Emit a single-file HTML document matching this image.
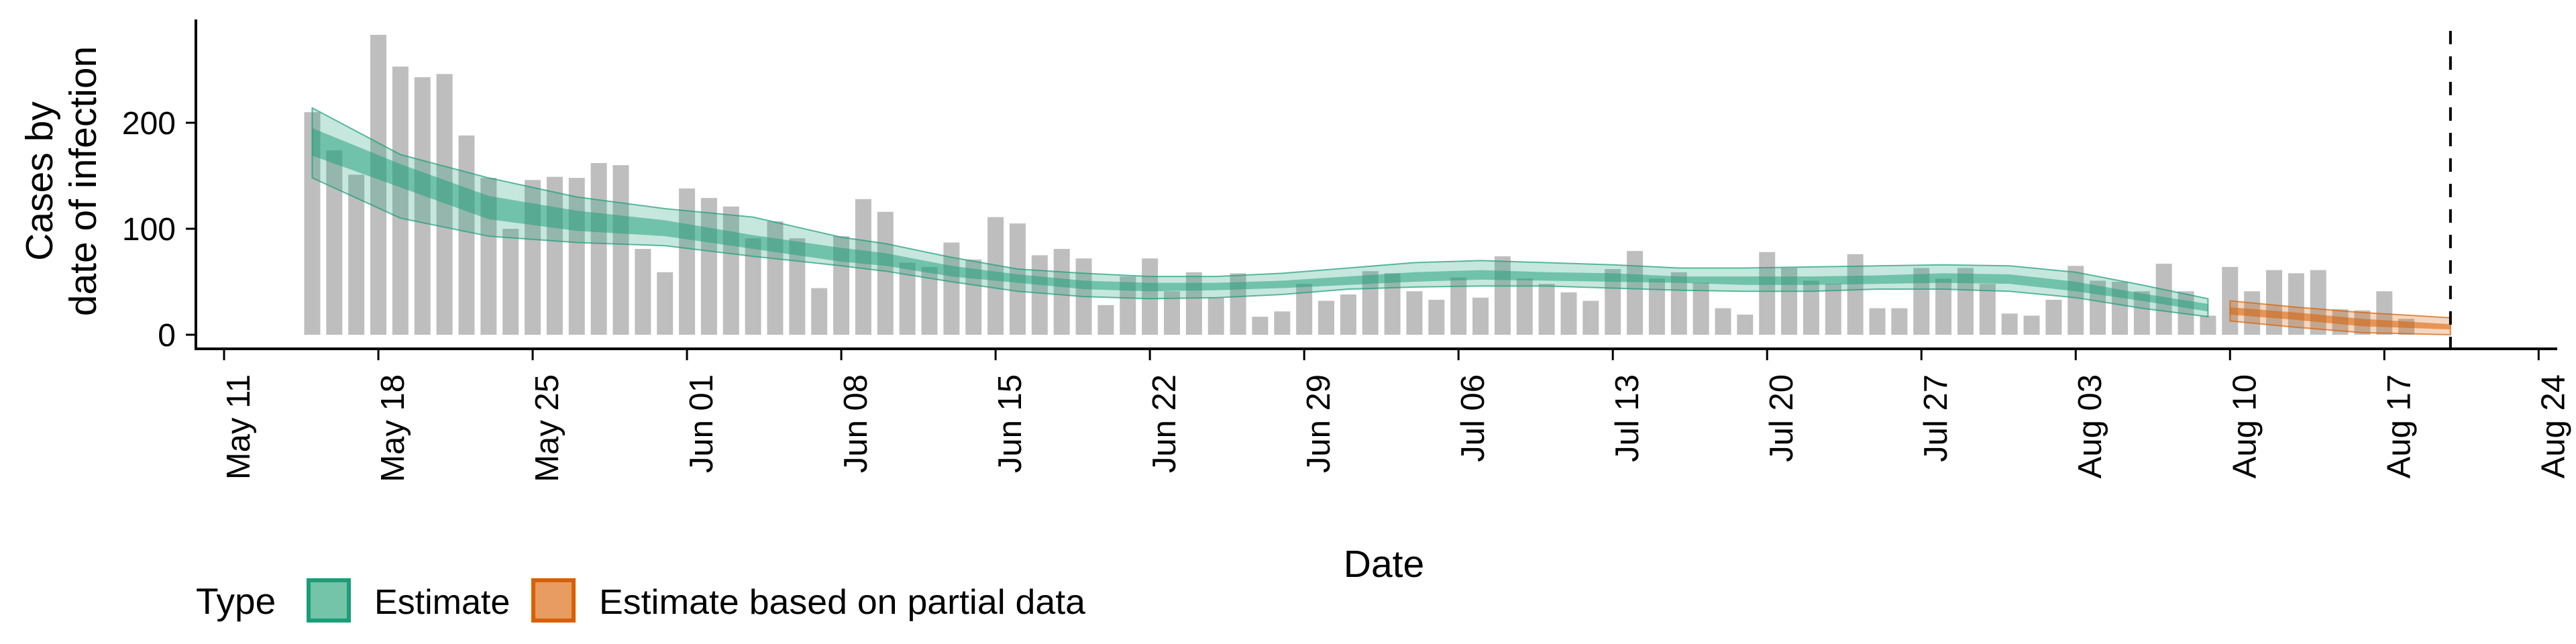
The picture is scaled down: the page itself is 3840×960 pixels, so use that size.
<!DOCTYPE html>
<html><head><meta charset="utf-8"><style>
html,body{margin:0;padding:0;background:#fff;}
svg{display:block;font-family:"Liberation Sans",sans-serif;}
</style></head><body>
<svg id="chart" width="3840" height="960" viewBox="0 0 3840 960">
<g id="bars"></g>
<g id="bands"></g>
<g id="axes"></g>
</svg>
<script>
const barStart = "2020-05-15";
const barValues = [210,174,151,283,253,243,246,188,148,100,146,149,148,162,160,81,59,138,129,121,91,107,91,44,93,128,
116,68,64,87,71,111,105,75,81,72,28,55,72,41,59,35,58,17,22,48,32,38,60,58,41,33,54,35,74,53,48,40,32,62,79,53,59,49,25,19,
78,63,51,48,76,25,25,63,53,63,48,20,18,33,65,51,50,41,67,41,18,64,41,61,58,61,24,23,41,15];
const estDates = ["2020-05-15","2020-05-19","2020-05-23","2020-05-27","2020-05-31","2020-06-04","2020-06-08","2020-06-10","2020-06-13","2020-06-16","2020-06-19","2020-06-22","2020-06-25","2020-06-28","2020-07-01","2020-07-04","2020-07-07","2020-07-10","2020-07-13","2020-07-16","2020-07-19","2020-07-22","2020-07-25","2020-07-28","2020-07-31","2020-08-03","2020-08-06","2020-08-09"];
const estOuterHi = [214,170,148,130,119,111,92,86,73,62,58,55,55,58,63,68,70,68,66,63,63,64,65,66,65,59,47,34];
const estInnerHi = [195,161,131,117,108,94,82,77,65,57,51,49,49,51,55,59,61,59,58,55,55,55,56,58,57,50,39,29];
const estInnerLo = [169,139,109,98,93,81,69,65,55,49,43,41,42,44,47,50,52,51,50,49,47,47,48,49,48,41,32,22];
const estOuterLo = [148,110,93,87,84,74,65,60,50,41,36,34,35,38,43,45,46,46,44,42,41,41,43,43,41,35,25,17];
const partDates = ["2020-08-10","2020-08-13","2020-08-16","2020-08-20"];
const partOuterHi = [32,26,21,16];
const partInnerHi = [26,21,15,10];
const partInnerLo = [19,14,8,5];
const partOuterLo = [13,7,2,0];
const tickLabels = ["May 11","May 18","May 25","Jun 01","Jun 08","Jun 15","Jun 22","Jun 29","Jul 06","Jul 13","Jul 20","Jul 27","Aug 03","Aug 10","Aug 17","Aug 24"];
const yTicks = [0,100,200];
const cutoffDate = "2020-08-20";

const NS="http://www.w3.org/2000/svg";
const origin = Date.UTC(2020,4,11);
function dayOf(s){const p=s.split("-");return Math.round((Date.UTC(+p[0],+p[1]-1,+p[2])-origin)/86400000);}
function x(d){return 334+32.86*d;}
function y(v){return 499-v*1.58;}
function mk(tag,attrs,parent){const e=document.createElementNS(NS,tag);for(const k in attrs)e.setAttribute(k,attrs[k]);parent.appendChild(e);return e;}

const gb=document.getElementById("bars");
const d0=dayOf(barStart);
barValues.forEach((v,i)=>{
  const cx=x(d0+i);
  const r=mk("rect",{x:cx-12,y:y(v),width:24,height:y(0)-y(v),fill:"#bebebe"},gb);
  
  
});

const gband=document.getElementById("bands");
function ribbon(dates,hi,lo,fill,op,stroke,name){
  let pts=dates.map((d,i)=>x(dayOf(d))+","+y(hi[i]));
  for(let i=dates.length-1;i>=0;i--)pts.push(x(dayOf(dates[i]))+","+y(lo[i]));
  const p=mk("polygon",{points:pts.join(" "),fill:fill,"fill-opacity":op,stroke:stroke||"none","stroke-width":2,"stroke-opacity":0.7},gband);
  
  
}
ribbon(estDates,estOuterHi,estOuterLo,"#1b9e77",0.25,"#1b9e77","estimate-90-band");
ribbon(estDates,estInnerHi,estInnerLo,"#1b9e77",0.5,null,"estimate-50-band");
ribbon(partDates,partOuterHi,partOuterLo,"#d95f02",0.25,"#d95f02","partial-90-band");
ribbon(partDates,partInnerHi,partInnerLo,"#d95f02",0.55,null,"partial-50-band");

const ga=document.getElementById("axes");
let e;
e=mk("line",{x1:292,y1:29,x2:292,y2:522,stroke:"#000","stroke-width":4},ga);


e=mk("line",{x1:290,y1:520,x2:3812,y2:520,stroke:"#000","stroke-width":4},ga);


yTicks.forEach(v=>{
  const t=mk("line",{x1:277,y1:y(v),x2:292,y2:y(v),stroke:"#000","stroke-width":3},ga);
  
  
  const l=mk("text",{x:262,y:y(v)+17,"text-anchor":"end","font-size":48,fill:"#000"},ga);
  l.textContent=v;
  
  
});
tickLabels.forEach((s,i)=>{
  const tx=x(i*7);
  const t=mk("line",{x1:tx,y1:520,x2:tx,y2:537,stroke:"#000","stroke-width":3},ga);
  
  
  const l=mk("text",{x:0,y:0,"text-anchor":"end","font-size":49,fill:"#000",transform:"translate("+(tx+38)+",558) rotate(-90)"},ga);
  l.textContent=s;
  
  
});
const cx=x(dayOf(cutoffDate));
e=mk("line",{x1:cx,y1:46,x2:cx,y2:520,stroke:"#000","stroke-width":4,"stroke-dasharray":"20 18"},ga);


</script>
<div style="position:absolute;left:0;top:0;width:3840px;height:960px;pointer-events:none">
<svg width="3840" height="960" style="position:absolute;left:0;top:0;font-family:'Liberation Sans',sans-serif">
<g>
<text transform="translate(78,270) rotate(-90)" text-anchor="middle" font-size="57">Cases by</text>
<text transform="translate(143,270) rotate(-90)" text-anchor="middle" font-size="57">date of infection</text>
</g>
<text x="2063" y="860" text-anchor="middle" font-size="57">Date</text>
<g>
<text x="292" y="915" font-size="55">Type</text>
<rect x="460" y="865" width="60" height="60" fill="#74c4aa" stroke="#1b9e77" stroke-width="6"/>
<text x="558" y="915" font-size="52">Estimate</text>
<rect x="795" y="865" width="60" height="60" fill="#e89c62" stroke="#d95f02" stroke-width="6"/>
<text x="893" y="915" font-size="52" textLength="725" lengthAdjust="spacingAndGlyphs">Estimate based on partial data</text>
</g>
</svg>
</div>
</body></html>
